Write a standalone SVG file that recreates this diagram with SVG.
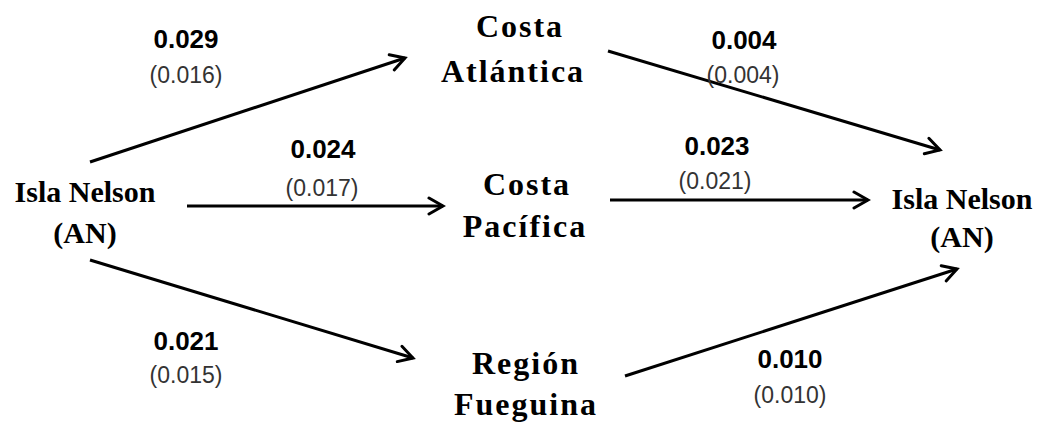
<svg xmlns="http://www.w3.org/2000/svg" width="1043" height="426" viewBox="0 0 1043 426">
<defs>
<marker id="ah" viewBox="0 0 20 20" refX="17" refY="10" markerWidth="20" markerHeight="20" markerUnits="userSpaceOnUse" orient="auto">
<path d="M3,2 L17,10 L3,18" fill="none" stroke="#000" stroke-width="3" stroke-linecap="round" stroke-linejoin="miter"/>
</marker>
<style>
.node{font-family:"Liberation Serif","Times New Roman",serif;font-weight:bold;font-size:30px;fill:#000;text-anchor:middle}
.reg{font-size:32px;letter-spacing:2px}
.w{font-family:"Liberation Sans",Arial,sans-serif;font-weight:bold;font-size:26px;fill:#000;text-anchor:middle}
.se{font-family:"Liberation Sans",Arial,sans-serif;font-size:23px;fill:#333;text-anchor:middle}
.c{stroke:#000;stroke-width:3;fill:none;marker-end:url(#ah)}
</style>
</defs>
<rect width="1043" height="426" fill="#fff"/>
<g id="connectors">
<line class="c" x1="90" y1="162" x2="405" y2="58"/>
<line class="c" x1="187" y1="206" x2="443" y2="206"/>
<line class="c" x1="90" y1="260" x2="413" y2="358"/>
<line class="c" x1="608" y1="51" x2="940" y2="150"/>
<line class="c" x1="610" y1="200" x2="868" y2="200"/>
<line class="c" x1="625" y1="376" x2="957" y2="269"/>
</g>
<g id="labels">
<text class="w" x="186" y="48">0.029</text>
<text class="se" x="186" y="83">(0.016)</text>
<text class="w" x="323" y="158">0.024</text>
<text class="se" x="322" y="196">(0.017)</text>
<text class="w" x="186" y="350">0.021</text>
<text class="se" x="186" y="383">(0.015)</text>
<text class="w" x="744" y="49">0.004</text>
<text class="se" x="743" y="83">(0.004)</text>
<text class="w" x="717" y="155">0.023</text>
<text class="se" x="715" y="189">(0.021)</text>
<text class="w" x="790" y="368">0.010</text>
<text class="se" x="790" y="403">(0.010)</text>
</g>
<g id="isla-nelson-left">
<text class="node" x="85" y="202">Isla Nelson</text>
<text class="node" x="85" y="243">(AN)</text>
</g>
<g id="costa-atlantica">
<text class="node reg" x="520" y="37">Costa</text>
<text class="node reg" x="513" y="82">Atlántica</text>
</g>
<g id="costa-pacifica">
<text class="node reg" x="527" y="195">Costa</text>
<text class="node reg" x="525" y="237">Pacífica</text>
</g>
<g id="region-fueguina">
<text class="node reg" x="526" y="374">Región</text>
<text class="node reg" x="526" y="415">Fueguina</text>
</g>
<g id="isla-nelson-right">
<text class="node" x="962" y="209">Isla Nelson</text>
<text class="node" x="962" y="247">(AN)</text>
</g>
</svg>
